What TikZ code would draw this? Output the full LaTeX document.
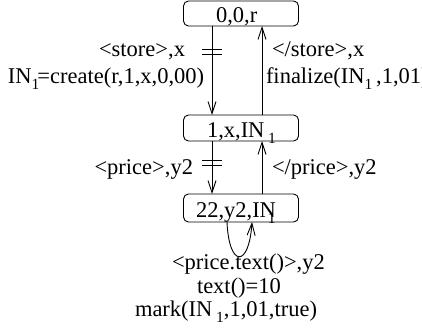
\documentclass[tikz,border=0pt]{standalone}
\usepackage{fontspec}
\setmainfont{Liberation Serif}
\usetikzlibrary{arrows.meta}
% lowered index digit
\newcommand{\lowone}{\raisebox{-6pt}{\fontsize{15.5}{15.5}\selectfont 1}}

\begin{document}
\begin{tikzpicture}[x=1pt,y=-1pt,
  every node/.style={font=\fontsize{22.5}{24}\selectfont, inner sep=0pt, outer sep=0pt},
  state/.style={draw, rounded corners=5pt, minimum width=115pt, line width=0.9pt},
  flow/.style={line width=0.9pt, -{Straight Barb[length=12pt,width=8pt,line width=0.9pt]}},
  tick/.style={line width=0.9pt},
  lw/.style={anchor=base west},
  le/.style={anchor=base east}]
\useasboundingbox (0,0) rectangle (422,332);

% states
\node[state, minimum height=25pt] (s0) at (241,13.5) {};
\node[state, minimum height=26pt] (s1) at (241,128) {};
\node[state, minimum height=28pt] (s2) at (241,208) {};
\node[lw] (t0) at (216,22.5) {0,0,r};
\node[lw] (t1) at (207,137) {1,x,IN\,\lowone};
\node[lw] (t2) at (196,217) {22,y2,IN\kern-8pt\lowone};

% columns of the transitions
\coordinate (dl) at (212,0);
\coordinate (ur) at (262,0);
\coordinate (la) at (227,0);
\coordinate (lb) at (252,0);

\draw[flow] (s0.south -| dl) -- (s1.north -| dl);
\draw[flow] (s1.north -| ur) -- (s0.south -| ur);
\draw[flow] (s1.south -| dl) -- (s2.north -| dl);
\draw[flow] (s2.north -| ur) -- (s1.south -| ur);
\draw[flow] (s2.south -| la) .. controls +(2,46) and +(-3,46) .. (s2.south -| lb);

% double bars on the opening transitions
\draw[tick] (202,49.5) -- (222,49.5) (202,54.5) -- (222,54.5);
\draw[tick] (202,160) -- (222,160) (202,165) -- (222,165);

% transition labels
\node[le] (l1) at (185,56) {<store>,x};
\node[lw] (l2) at (8,83) {IN\lowone\kern-2pt=create(r,1,x,0,00)};
\node[lw] (l3) at (272,56) {</store>,x};
\node[lw] (l4) at (266,83) {finalize(IN\lowone\,,1,01)};
\node[le] (l5) at (193,174) {<price>,y2};
\node[lw] (l6) at (272,174) {</price>,y2};
\node[lw] (l7) at (172,269) {<price.text()>,y2};
\node[lw] (l8) at (197,293) {text()=10};
\node[lw] (l9) at (135,316) {mark(IN\,\lowone,1,01,true)};
\end{tikzpicture}
\end{document}
